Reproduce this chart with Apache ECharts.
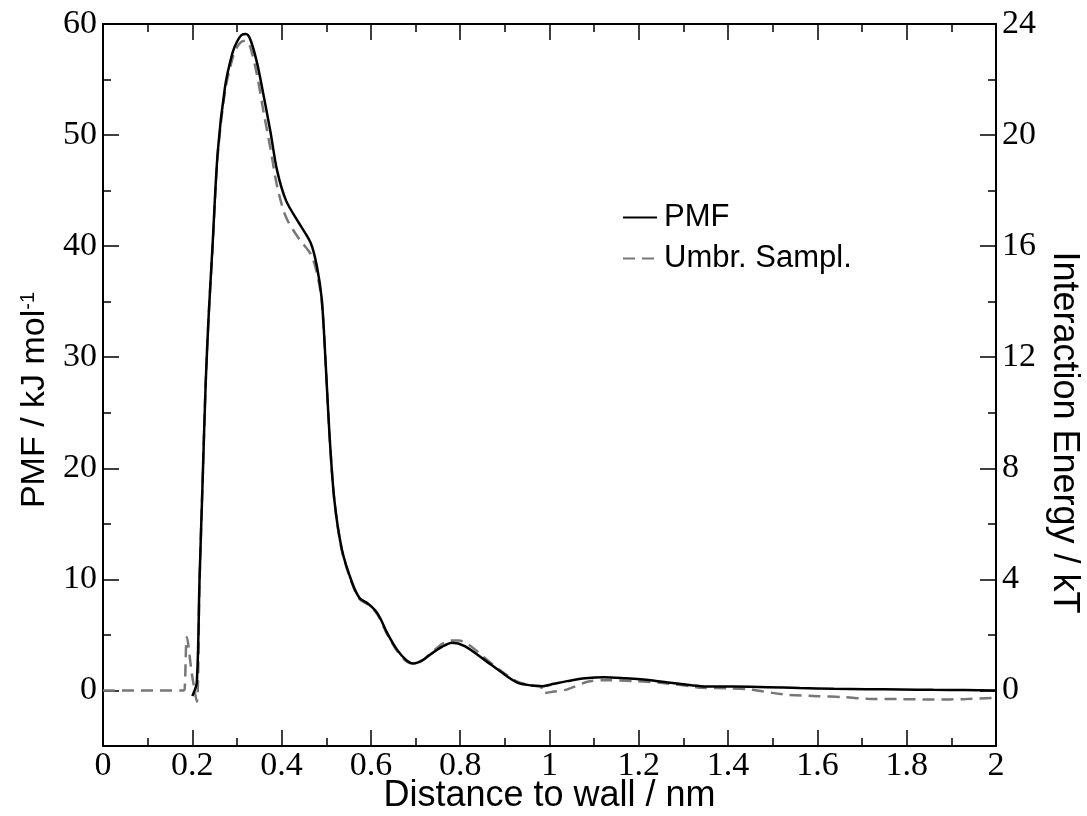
<!DOCTYPE html>
<html>
<head>
<meta charset="utf-8">
<script src="https://cdn.jsdelivr.net/npm/echarts@6/dist/echarts.min.js"></script>
<style>html,body{margin:0;padding:0;background:#fff}#c{width:1087px;height:816px}</style>
</head>
<body>
<div id="c"></div>
<script>
// ---- data ----
const pmfX = [0.200,0.210,0.216,0.223,0.230,0.237,0.245,0.257,0.2735,0.290,0.300,0.310,0.320,0.330,0.345,0.360,0.375,0.390,0.410,0.440,0.465,0.479,0.490,0.499,0.507,0.518,0.535,0.558,0.575,0.591,0.610,0.621,0.636,0.658,0.680,0.696,0.715,0.733,0.758,0.782,0.810,0.853,0.890,0.928,0.960,0.984,1.010,1.040,1.080,1.122,1.170,1.226,1.280,1.339,1.410,1.488,1.560,1.637,1.710,1.787,1.860,1.930,2.000];
const pmfY = [-0.5,0.7,9.7,18.7,27.7,34.0,39.8,48.5,54.4,57.4,58.4,59.0,59.1,58.6,56.5,53.5,50.3,46.8,44.1,42.0,40.3,38.2,35.2,29.2,23.2,17.2,12.7,9.7,8.3,7.9,7.2,6.5,5.2,3.7,2.7,2.43,2.7,3.24,3.9,4.3,4.0,2.8,1.7,0.7,0.45,0.39,0.6,0.84,1.1,1.2,1.1,0.93,0.65,0.39,0.35,0.3,0.22,0.15,0.12,0.09,0.06,0.04,0.0];

const usX = [0.000,0.180,0.183,0.188,0.199,0.210,0.216,0.223,0.230,0.237,0.245,0.257,0.2735,0.290,0.300,0.310,0.320,0.330,0.345,0.360,0.375,0.390,0.410,0.440,0.465,0.479,0.490,0.499,0.507,0.518,0.535,0.558,0.575,0.591,0.610,0.621,0.636,0.658,0.680,0.696,0.715,0.733,0.760,0.782,0.797,0.820,0.853,0.890,0.928,0.960,0.980,0.985,1.010,1.040,1.085,1.130,1.190,1.264,1.324,1.339,1.400,1.450,1.525,1.600,1.660,1.712,1.780,1.862,1.930,2.000];
const usY = [0,0,0.2,4.8,1.5,-1.0,9.5,18.7,27.7,34.0,39.5,48.2,54.0,56.9,57.9,58.4,58.5,57.9,55.4,52.0,48.8,45.4,42.6,40.6,39.3,37.6,35.0,29.2,23.2,17.2,12.6,9.6,8.2,7.8,7.1,6.4,5.1,3.6,2.6,2.4,2.7,3.3,4.2,4.5,4.5,4.1,3.0,1.8,0.8,0.45,0.4,-0.25,-0.1,0.1,0.78,0.93,0.84,0.63,0.33,0.24,0.2,0.09,-0.36,-0.51,-0.6,-0.75,-0.78,-0.81,-0.78,-0.66];

const seriesNames = ['PMF', 'Umbr. Sampl.'];
const leftLabelVals = [0,10,20,30,40,50,60];
const leftMinorVals = [5,15,25,35,45,55];
const rightLabelVals = [0,4,8,12,16,20,24];
const rightMinorVals = [2,6,10,14,18,22];

const serif = 'Liberation Serif, Times New Roman, serif';
const sans = 'Liberation Sans, Arial, Helvetica, sans-serif';
const zip = (xs, ys) => xs.map((x, i) => [x, ys[i]]);

const chart = echarts.init(document.getElementById('c'), null, {renderer: 'canvas'});
const lineAxis = {show: true, onZero: false, lineStyle: {color: '#000', width: 2}};
const noLine = {show: false, onZero: false};
const xCommon = {
  type: 'value', min: 0, max: 2, interval: 0.2,
  axisLine: lineAxis,
  axisTick: {show: true, inside: true, length: 16, lineStyle: {color: '#000', width: 1.5}},
  minorTick: {show: true, splitNumber: 2, length: 8, lineStyle: {color: '#000', width: 1.5}},
  splitLine: {show: false}, minorSplitLine: {show: false}
};
chart.setOption({
  backgroundColor: '#fff',
  animation: false,
  grid: {left: 103, right: 91, top: 24, bottom: 70, containLabel: false, outerBoundsMode: 'none'},
  legend: {
    orient: 'vertical', left: 617, top: 197, itemWidth: 34, itemHeight: 4, itemGap: 10,
    data: seriesNames,
    itemStyle: {opacity: 0},
    textStyle: {fontFamily: sans, fontSize: 31, color: '#000', padding: [0,0,0,2]}
  },
  xAxis: [
    Object.assign({}, xCommon, {
      position: 'bottom',
      axisLabel: {show: true, fontFamily: serif, fontSize: 34, color: '#000', margin: 3},
      name: 'Distance to wall / nm', nameLocation: 'middle', nameGap: 32, nameMoveOverlap: false,
      nameTextStyle: {fontFamily: sans, fontSize: 36, color: '#000', verticalAlign: 'top'}
    }),
    Object.assign({}, xCommon, {position: 'top', axisLabel: {show: false}})
  ],
  yAxis: [
    {
      type: 'value', position: 'left', min: -5, max: 60, interval: 5,
      axisLine: lineAxis,
      axisTick: {show: true, inside: true, length: 16, customValues: leftLabelVals, lineStyle: {color: '#000', width: 1.5}},
      axisLabel: {show: true, customValues: leftLabelVals, fontFamily: serif, fontSize: 34, color: '#000', margin: 6},
      splitLine: {show: false},
      name: '{a|PMF / kJ mol}{s|-1}', nameLocation: 'middle', nameGap: 46,
      nameTextStyle: {fontFamily: sans, color: '#000', padding: [0,30,0,0], rich: {
        a: {fontFamily: sans, fontSize: 34, color: '#000'},
        s: {fontFamily: sans, fontSize: 20, color: '#000', verticalAlign: 'top'}
      }}
    },
    {
      type: 'value', position: 'left', min: -5, max: 60, interval: 5,
      axisLine: noLine,
      axisTick: {show: true, inside: true, length: 8, customValues: leftMinorVals, lineStyle: {color: '#000', width: 1.5}},
      axisLabel: {show: false}, splitLine: {show: false}
    },
    {
      type: 'value', position: 'right', min: -2, max: 24, interval: 2,
      axisLine: lineAxis,
      axisTick: {show: true, inside: true, length: 16, customValues: rightLabelVals, lineStyle: {color: '#000', width: 1.5}},
      axisLabel: {show: true, customValues: rightLabelVals, fontFamily: serif, fontSize: 34, color: '#000', margin: 6},
      splitLine: {show: false},
      name: 'Interaction Energy / kT', nameLocation: 'middle', nameGap: 50, nameRotate: -90, nameMoveOverlap: false,
      nameTextStyle: {fontFamily: sans, fontSize: 36, color: '#000', padding: [0,0,0,95]}
    },
    {
      type: 'value', position: 'right', min: -2, max: 24, interval: 2,
      axisLine: noLine,
      axisTick: {show: true, inside: true, length: 8, customValues: rightMinorVals, lineStyle: {color: '#000', width: 1.5}},
      axisLabel: {show: false}, splitLine: {show: false}
    }
  ],
  series: [
    {
      name: seriesNames[0], type: 'line', xAxisIndex: 0, yAxisIndex: 0,
      data: zip(pmfX, pmfY), showSymbol: false, symbol: 'none', smooth: 0.3, z: 3,
      lineStyle: {color: '#000', width: 2.5}, itemStyle: {color: '#000'}
    },
    {
      name: seriesNames[1], type: 'line', xAxisIndex: 0, yAxisIndex: 0,
      data: zip(usX, usY), showSymbol: false, symbol: 'none', smooth: 0.3, z: 2,
      lineStyle: {color: '#777', width: 2.5, type: [12, 7]}, itemStyle: {color: '#777'}
    }
  ]
});
</script>
</body>
</html>
